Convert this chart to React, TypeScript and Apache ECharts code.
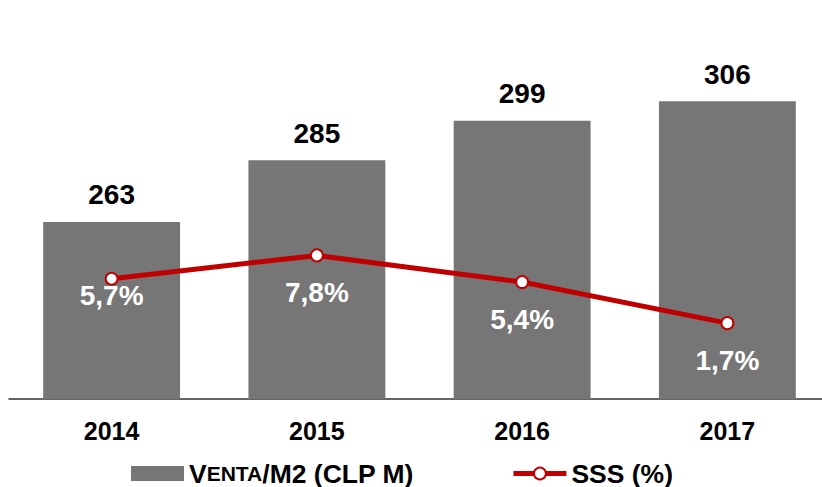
import React, { useEffect, useRef } from "react";
import * as echarts from "echarts";

const categories = ["2014", "2015", "2016", "2017"];
const ventaValues = [263, 285, 299, 306];
const sssValues = [5.7, 7.8, 5.4, 1.7];
const sssLabels = ["5,7%", "7,8%", "5,4%", "1,7%"];
const ventaName = "Venta/M2 (CLP M)";
const sssName = "SSS (%)";

const FONT = "'Liberation Sans', Arial, sans-serif";

export default function App() {
  const ref = useRef<HTMLDivElement>(null);
  useEffect(() => {
    document.body.style.margin = "0";
    document.body.style.overflow = "hidden";
    if (!ref.current) return;
    const chart = echarts.init(ref.current, undefined, { renderer: "svg" });
    chart.setOption({
      animation: false,
      textStyle: { fontFamily: FONT },
      grid: { left: 9, right: 1, top: 0, bottom: 88, containLabel: false },
      legend: {
        left: 131,
        top: 460,
        itemWidth: 53,
        itemHeight: 15,
        itemGap: 97,
        padding: 0,
        data: [
          { name: ventaName, icon: "rect" },
          { name: sssName, lineStyle: { width: 5 } },
        ],
        formatter: (name: string) =>
          name === ventaName
            ? "{a|V}{b|ENTA}{a|/M2 (CLP M)}"
            : "{a|" + name + "}",
        textStyle: {
          rich: {
            a: { fontSize: 26.5, lineHeight: 26, fontWeight: "bold", color: "#000", fontFamily: FONT },
            b: { fontSize: 21, lineHeight: 26, fontWeight: "bold", color: "#000", fontFamily: FONT },
          },
        },
      },
      xAxis: {
        type: "category",
        data: categories,
        axisTick: { show: false },
        axisLine: { onZero: false, lineStyle: { color: "#333", width: 1.5 } },
        axisLabel: {
          fontSize: 25,
          fontWeight: "bold",
          color: "#000",
          margin: 19,
          fontFamily: FONT,
        },
      },
      yAxis: [
        { type: "value", min: 200, max: 342, show: false },
        { type: "value", min: -5.13, max: 30.8, show: false },
      ],
      series: [
        {
          name: ventaName,
          type: "bar",
          data: ventaValues,
          barWidth: "66.7%",
          itemStyle: { color: "#767676" },
          label: {
            show: true,
            position: "top",
            distance: 13,
            fontSize: 28,
            fontWeight: "bold",
            color: "#000",
            fontFamily: FONT,
          },
        },
        {
          name: sssName,
          type: "line",
          yAxisIndex: 1,
          data: sssValues.map((v, i) => ({
            value: v,
            label: i === 0 ? { distance: -4 } : undefined,
          })),
          symbol: "circle",
          symbolSize: 12,
          lineStyle: { color: "#C00000", width: 5 },
          itemStyle: { color: "#fff", borderColor: "#C00000", borderWidth: 2 },
          label: {
            show: true,
            position: "bottom",
            distance: 16,
            fontSize: 28,
            fontWeight: "bold",
            color: "#fff",
            fontFamily: FONT,
            formatter: (p: any) => sssLabels[p.dataIndex],
          },
        },
      ],
    });
    return () => chart.dispose();
  }, []);
  return <div ref={ref} style={{ width: 831, height: 487 }} />;
}
